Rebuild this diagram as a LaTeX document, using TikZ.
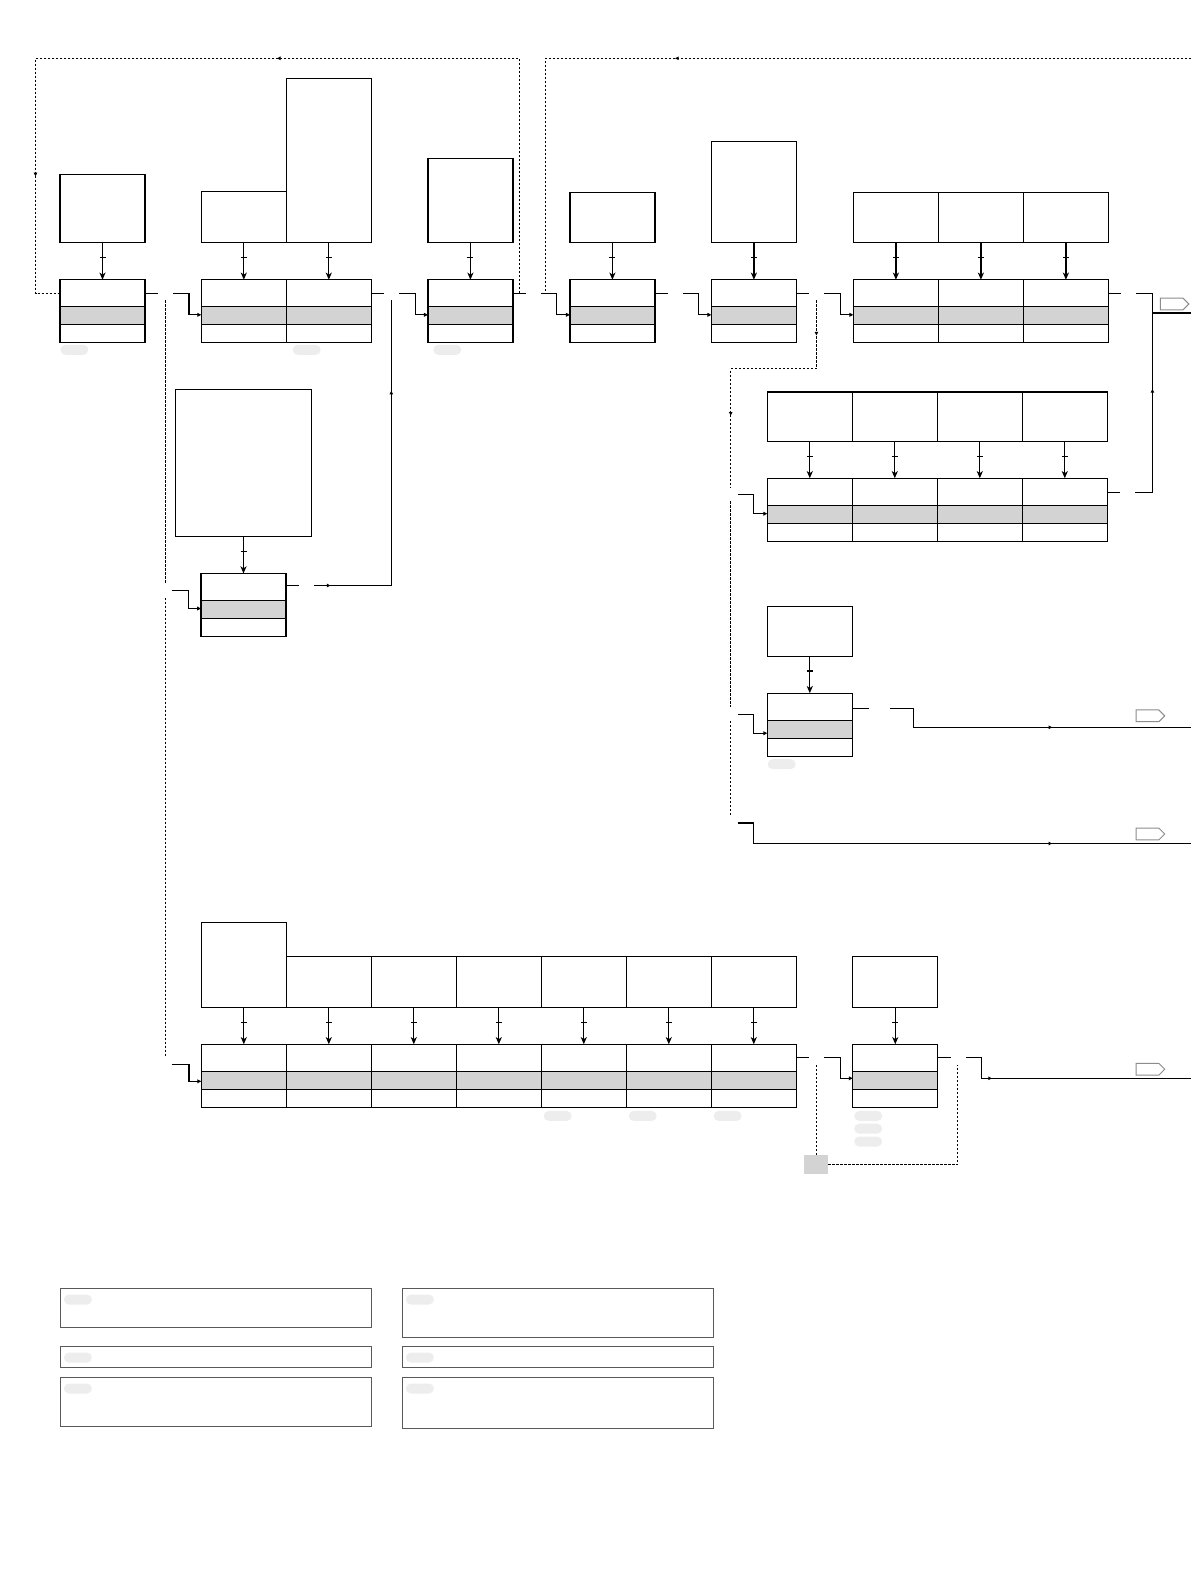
\documentclass[tikz,border=0pt]{standalone}
\usepackage{xcolor}
\usepackage{tikz}
\usetikzlibrary{
  positioning,
  arrows.meta,
  shapes.symbols,
  decorations.markings
}
\definecolor{bandgray}{RGB}{211,211,211}

\begin{document}
\begin{tikzpicture}[
  x=0.5pt, y=-0.5pt,
  proc/.style={
    rectangle,
    draw=black,
    line width=0.65pt,
    minimum width=42.5pt,
    minimum height=31.5pt,
    inner sep=0pt,
    outer sep=0pt,
    path picture={
      \fill[bandgray] ([yshift=-13.5pt]path picture bounding box.north west)
        rectangle ([yshift=9pt]path picture bounding box.south east);
      \draw[line width=0.65pt] ([yshift=-13.5pt]path picture bounding box.north west)
        -- ([yshift=-13.5pt]path picture bounding box.north east);
      \draw[line width=0.65pt] ([yshift=9pt]path picture bounding box.south west)
        -- ([yshift=9pt]path picture bounding box.south east);
    }
  },
  inbox/.style={
    rectangle,
    draw=black,
    line width=0.65pt,
    minimum width=42.5pt,
    inner sep=0pt,
    outer sep=0pt
  },
  feed/.style={
    draw,
    line width=0.65pt,
    -{Stealth[length=3.6pt,width=3pt,inset=1pt]},
    postaction={decorate, decoration={markings,
      mark=at position 0.4 with {\draw[-, line width=0.6pt] (0,-1.5pt) -- (0,1.5pt);}}}
  },
  link/.style={draw, line width=0.55pt},
  inlink/.style={link, -{Triangle[length=2pt,width=1.9pt]}},
  dashline/.style={draw, line width=0.5pt, dash pattern=on 1.1pt off 0.9pt},
  midtip/.style={
    postaction={decorate, decoration={markings,
      mark=at position #1 with {\arrow{Triangle[length=1.8pt,width=1.7pt]}}}}
  },
  exittag/.style={
    signal,
    signal to=east,
    draw=black!45,
    fill=white,
    line width=0.5pt,
    minimum width=14.3pt,
    minimum height=5.9pt,
    inner sep=0pt,
    outer sep=0pt
  },
  offpage/.style={rectangle, fill=bandgray, minimum width=12pt, minimum height=9.5pt, inner sep=0pt, outer sep=0pt},
  smudge/.style={rectangle, rounded corners=2.5pt, fill=black!7, minimum width=14pt, minimum height=5pt, inner sep=0pt},
  legendbox/.style={rectangle, draw=black!65, line width=0.6pt, minimum width=155.6pt, inner sep=0pt, outer sep=0pt}
]
\useasboundingbox (0,0) rectangle (1191,1587);

% Top row of process cells
\node[proc] (a) at (102.5,311.3) {};
\node[proc] (b1) at (243.8,311.3) {};
\node[proc, right=0pt of b1] (b2) {};
\node[proc] (c) at (470.4,311.3) {};
\node[proc] (d) at (612.4,311.3) {};
\node[proc] (e) at (753.9,311.3) {};
\node[proc] (f1) at (895.9,311.3) {};
\node[proc, right=0pt of f1] (f2) {};
\node[proc, right=0pt of f2] (f3) {};

% Inputs above the top row
\node[inbox, minimum height=34pt, above=18.5pt of a] (a-in) {};
\node[inbox, minimum height=25.5pt, above=18.5pt of b1] (b1-in) {};
\node[inbox, minimum height=82pt, above=18.5pt of b2] (b2-in) {};
\node[inbox, minimum height=42pt, above=18.5pt of c] (c-in) {};
\node[inbox, minimum height=25pt, above=18.5pt of d] (d-in) {};
\node[inbox, minimum height=50.5pt, above=18.5pt of e] (e-in) {};
\node[inbox, minimum height=25pt, above=18.5pt of f1] (f1-in) {};
\node[inbox, minimum height=25pt, above=18.5pt of f2] (f2-in) {};
\node[inbox, minimum height=25pt, above=18.5pt of f3] (f3-in) {};

% Right branches
\node[proc] (g1) at (809.8,509.8) {};
\node[proc, right=0pt of g1] (g2) {};
\node[proc, right=0pt of g2] (g3) {};
\node[proc, right=0pt of g3] (g4) {};
\node[inbox, minimum height=24.7pt, above=18.5pt of g1] (g1-in) {};
\node[inbox, minimum height=24.7pt, above=18.5pt of g2] (g2-in) {};
\node[inbox, minimum height=24.7pt, above=18.5pt of g3] (g3-in) {};
\node[inbox, minimum height=24.7pt, above=18.5pt of g4] (g4-in) {};
\node[proc] (h) at (809.8,724.7) {};
\node[inbox, minimum height=25pt, above=18.5pt of h] (h-in) {};

% Left branches
\node[proc] (i) at (243.5,605) {};
\node[inbox, minimum width=67.7pt, minimum height=73.5pt, above=18.5pt of i] (i-in) {};
\node[proc] (j1) at (243.8,1075.8) {};
\node[inbox, minimum height=42.5pt, above=18.5pt of j1] (j1-in) {};
\foreach \n [count=\p from 1] in {2,...,7} {
  \node[proc, right=0pt of j\p] (j\n) {};
  \node[inbox, minimum height=25.3pt, above=18.5pt of j\n] (j\n-in) {};
}
\node[proc] (k) at (895.3,1075.8) {};
\node[inbox, minimum height=25.5pt, above=18.5pt of k] (k-in) {};

% Inputs feeding their cells
\foreach \n in {a,b1,b2,c,d,e,f1,f2,f3,g1,g2,g3,g4,h,i,j1,j2,j3,j4,j5,j6,j7,k}
  \draw[feed] (\n-in) -- (\n);

% Junctions on the top row
\coordinate (ab) at ([xshift=10pt,yshift=-6.75pt]a.north east);
\coordinate (bc) at ([xshift=10pt,yshift=-6.75pt]b2.north east);
\coordinate (cd) at ([xshift=10pt,yshift=-6.75pt]c.north east);
\coordinate (de) at ([xshift=10pt,yshift=-6.75pt]d.north east);
\coordinate (ef) at ([xshift=10pt,yshift=-6.75pt]e.north east);
\coordinate (fx) at ([xshift=10pt,yshift=-6.75pt]f3.north east);
\coordinate (cd1) at ([xshift=3.2pt,yshift=-6.75pt]c.north east);
\coordinate (cd2) at ([xshift=16.5pt,yshift=-6.75pt]c.north east);

% Top row links
\draw[link] ([yshift=-6.75pt]a.north east) -- ([xshift=-3.5pt]ab);
\draw[inlink] ([xshift=4pt]ab) -- ++(8pt,0) |- ([yshift=-17.5pt]b1.north west);
\draw[link] ([yshift=-6.75pt]b2.north east) -- ([xshift=-3.5pt]bc);
\draw[inlink] ([xshift=4pt]bc) -- ++(8pt,0) |- ([yshift=-17.5pt]c.north west);
\draw[link] ([yshift=-6.75pt]c.north east) -- ([xshift=-3.5pt]cd);
\draw[inlink] ([xshift=4pt]cd) -- ++(8pt,0) |- ([yshift=-17.5pt]d.north west);
\draw[link] ([yshift=-6.75pt]d.north east) -- ([xshift=-3.5pt]de);
\draw[inlink] ([xshift=4pt]de) -- ++(8pt,0) |- ([yshift=-17.5pt]e.north west);
\draw[link] ([yshift=-6.75pt]e.north east) -- ([xshift=-3.5pt]ef);
\draw[inlink] ([xshift=4pt]ef) -- ++(8pt,0) |- ([yshift=-17.5pt]f1.north west);

% Rework loops over the top
\coordinate (loopa) at (35.5,58.3);
\coordinate (loopb) at (1191,58.3);
\draw[dashline, midtip=238.7pt, midtip=418.4pt] (cd1) |- (loopa) |- ([yshift=-6.75pt]a.north west);
\draw[dashline, midtip=258pt] (loopb) -| (cd2);

% Left dashed branch line
\coordinate (ib) at ([yshift=-8.5pt]i.north -| ab);
\coordinate (jb) at ([yshift=-10pt]j1.north -| ab);
\draw[dashline] ([yshift=-3.5pt]ab) -- ([yshift=3.5pt]ib);
\draw[dashline] ([yshift=-3.5pt]ib) -- ([yshift=3.5pt]jb);
\draw[inlink] ([xshift=3.25pt]ib) -- ++(8.5pt,0) |- ([yshift=-17.5pt]i.north west);
\draw[inlink] ([xshift=3.25pt]jb) -- ++(8.75pt,0) |- ([yshift=-18.5pt]j1.north west);

% Return from the left branch
\coordinate (ix) at ([xshift=10pt,yshift=-6pt]i.north east);
\draw[link] ([yshift=-6pt]i.north east) -- ([xshift=-3.5pt]ix);
\draw[link, midtip=8.25pt, midtip=136pt] ([xshift=4pt]ix) -| ([yshift=-3.5pt]bc);

% Right dashed branch line
\coordinate (gb) at ([xshift=-18.3pt,yshift=-8pt]g1.north west);
\coordinate (hb) at ([yshift=-10.5pt]h.north -| gb);
\coordinate (xb) at ([yshift=-54.4pt]hb);
\draw[dashline, midtip=17.6pt, midtip=100.5pt] ([yshift=-3.5pt]ef) -- ([yshift=-37.75pt]ef) -| ([yshift=3.5pt]gb);
\draw[dashline] ([yshift=-3.5pt]gb) -- ([yshift=3.5pt]hb);
\draw[dashline] ([yshift=-3.5pt]hb) -- ([yshift=3pt]xb);
\draw[inlink] ([xshift=3.8pt]gb) -- ++(7.5pt,0) |- ([yshift=-17.7pt]g1.north west);
\draw[inlink] ([xshift=3.8pt]hb) -- ++(7.5pt,0) |- ([yshift=-20pt]h.north west);

% Exits on the right edge
\coordinate (exit1) at (1191,313);
\coordinate (fbend) at ([xshift=12pt]fx |- exit1);
\draw[link] ([yshift=-6.75pt]f3.north east) -- ([xshift=-3.5pt]fx);
\draw[link] ([xshift=4pt]fx) -- ++(8pt,0) -- (fbend) -- (exit1);
\coordinate (gx) at ([xshift=10pt,yshift=-7pt]g4.north east);
\draw[link] ([yshift=-7pt]g4.north east) -- ([xshift=-3.5pt]gx);
\draw[link, midtip=60.2pt] ([xshift=4pt]gx) -- (gx -| fbend) -- (fbend);
\node[exittag] (tag1) at (1171.6,304) {};

\coordinate (hx) at ([xshift=13.6pt,yshift=-7.5pt]h.north east);
\coordinate (exit2) at (1191,727.3);
\draw[link] ([yshift=-7.5pt]h.north east) -- ([xshift=-5.2pt]hx);
\draw[link, midtip=90.7pt] ([xshift=5.2pt]hx) -- ++(12pt,0) |- (exit2);
\node[exittag] (tag2) at (1147.5,715.8) {};

\coordinate (exit3) at (1191,843.5);
\draw[link, midtip=167.2pt] ([xshift=3.8pt]xb) -- ++(7.5pt,0) |- (exit3);
\node[exittag] (tag3) at (1147.5,834) {};

% Bottom row to its last cell
\coordinate (jk) at ([xshift=10pt,yshift=-6.75pt]j7.north east);
\coordinate (kx) at ([xshift=10pt,yshift=-6.75pt]k.north east);
\draw[link] ([yshift=-6.75pt]j7.north east) -- ([xshift=-3.5pt]jk);
\draw[inlink] ([xshift=4pt]jk) -- ++(8pt,0) |- ([yshift=-17pt]k.north west);
\draw[link] ([yshift=-6.75pt]k.north east) -- ([xshift=-3.5pt]kx);
\coordinate (exit4) at (1191,1078.3);
\draw[link, midtip=23.3pt] ([xshift=4pt]kx) -- ++(8pt,0) |- (exit4);
\node[exittag] (tag4) at (1147.5,1069.2) {};
\node[offpage, below=48.5pt of jk] (sq) {};
\draw[dashline] ([yshift=-3.5pt]jk) -- (sq);
\draw[dashline] (sq) -| ([yshift=-3.5pt]kx);

% Faded notes
\node[smudge, anchor=west] (a-note) at ([yshift=-3.5pt]a.south west) {};
\node[smudge, anchor=west] (b-note) at ([xshift=3pt,yshift=-3.5pt]b2.south west) {};
\node[smudge, anchor=west] (c-note) at ([xshift=2.5pt,yshift=-3.5pt]c.south west) {};
\node[smudge, anchor=west] (h-note) at ([yshift=-4pt]h.south west) {};
\foreach \n in {5,6,7}
  \node[smudge, anchor=west] (j\n-note) at ([xshift=1pt,yshift=-4.3pt]j\n.south west) {};
\node[smudge, anchor=west] (k-note1) at ([xshift=0.5pt,yshift=-4.3pt]k.south west) {};
\node[smudge, below=1pt of k-note1] (k-note2) {};
\node[smudge, below=1pt of k-note2] (k-note3) {};

% Key boxes
\node[legendbox, minimum height=19.5pt, anchor=north west] (key1) at (60.5,1288.3) {};
\node[legendbox, minimum height=10.5pt, below=9.5pt of key1] (key2) {};
\node[legendbox, minimum height=24.4pt, below=5pt of key2] (key3) {};
\node[legendbox, minimum height=24.5pt, anchor=north west] (key4) at (402.5,1288.3) {};
\node[legendbox, minimum height=10.5pt, below=4.5pt of key4] (key5) {};
\node[legendbox, minimum height=25.5pt, below=5pt of key5] (key6) {};
\foreach \n in {1,...,6}
  \node[smudge, anchor=west] (key\n-note) at ([xshift=1.5pt,yshift=-5.6pt]key\n.north west) {};

\end{tikzpicture}
\end{document}
